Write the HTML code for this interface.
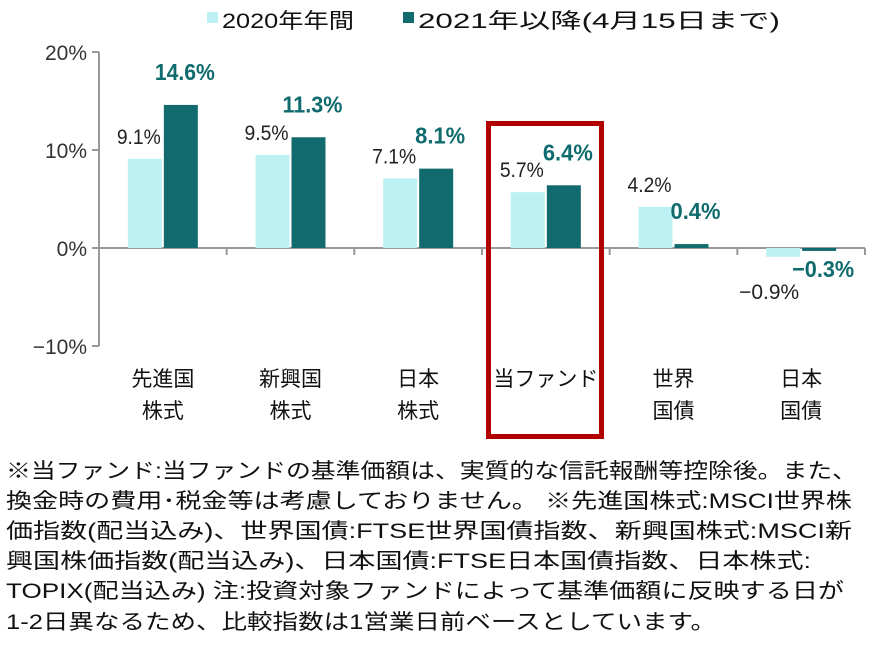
<!DOCTYPE html>
<html><head><meta charset="utf-8"><style>
body{margin:0;background:#fff;}
svg{display:block;font-family:"Liberation Sans","Noto Sans CJK JP",sans-serif;}
</style></head><body>
<svg id="chart" width="878" height="655" viewBox="0 0 878 655" xmlns="http://www.w3.org/2000/svg">
<g>
  <rect x="207" y="12" width="11" height="11" fill="#bdf1f3"/>
  <text x="222" y="28" font-size="21" fill="#111" textLength="132" lengthAdjust="spacingAndGlyphs">2020年年間</text>
  <rect x="403" y="12" width="11" height="11" fill="#116a6e"/>
  <text x="418" y="28" font-size="21" fill="#111" textLength="362" lengthAdjust="spacingAndGlyphs">2021年以降(4月15日まで)</text>
</g>
<g id="axes"></g>
<g id="bars"></g>
<rect x="488.5" y="123.5" width="113" height="313" fill="none" stroke="#b00000" stroke-width="5"/>
<g font-size="21" fill="#111">
  <text x="6" y="478" textLength="851" lengthAdjust="spacingAndGlyphs">※当ファンド:当ファンドの基準価額は、実質的な信託報酬等控除後。また、</text>
  <text x="6" y="508" textLength="846" lengthAdjust="spacingAndGlyphs">換金時の費用･税金等は考慮しておりません。 ※先進国株式:MSCI世界株</text>
  <text x="6" y="538" textLength="846" lengthAdjust="spacingAndGlyphs">価指数(配当込み)、世界国債:FTSE世界国債指数、新興国株式:MSCI新</text>
  <text x="6" y="568" textLength="805" lengthAdjust="spacingAndGlyphs">興国株価指数(配当込み)、日本国債:FTSE日本国債指数、日本株式:</text>
  <text x="6" y="598" textLength="838" lengthAdjust="spacingAndGlyphs">TOPIX(配当込み) 注:投資対象ファンドによって基準価額に反映する日が</text>
  <text x="6" y="629" textLength="710" lengthAdjust="spacingAndGlyphs">1-2日異なるため、比較指数は1営業日前ベースとしています。</text>
</g>
</svg>
<script>
const categories = [["先進国","株式"],["新興国","株式"],["日本","株式"],["当ファンド"],["世界","国債"],["日本","国債"]];
const series2020 = [9.1, 9.5, 7.1, 5.7, 4.2, -0.9];
const series2021 = [14.6, 11.3, 8.1, 6.4, 0.4, -0.3];
const yTicks = [20, 10, 0, -10];
const yTickLabels = ["20%","10%","0%","-10%"];

const NS="http://www.w3.org/2000/svg";
const x0=99, x1=865, y0=248, pxPer=9.8;
const bw=(x1-x0)/categories.length;
const yS=v=>y0-v*pxPer;
const axes=document.getElementById('axes'), bars=document.getElementById('bars');
function mk(tag,attrs,parent){const e=document.createElementNS(NS,tag);for(const k in attrs)e.setAttribute(k,attrs[k]);parent.appendChild(e);return e;}

const yl=mk('line',{x1:x0,x2:x0,y1:yS(20),y2:yS(-10),stroke:'#999','stroke-width':2},axes);


yTicks.forEach((t,i)=>{
  const tk=mk('line',{x1:x0-7,x2:x0,y1:yS(t),y2:yS(t),stroke:'#999','stroke-width':2},axes);
  
  
  const tl=mk('text',{x:x0-12,y:yS(t)+8,'text-anchor':'end','font-size':21,fill:'#333'},axes);
  tl.textContent=yTickLabels[i].replace('-','−');
  
  
});
const xl=mk('line',{x1:x0,x2:x1,y1:y0,y2:y0,stroke:'#999','stroke-width':2},axes);


for(let i=1;i<=categories.length;i++){
  const xt=x0+i*bw;
  const tk=mk('line',{x1:xt,x2:xt,y1:y0,y2:y0+7,stroke:'#999','stroke-width':2},axes);
  
  
}
function fmt(v){return (v<0?'−':'')+Math.abs(v).toFixed(1)+'%';}
categories.forEach((c,i)=>{
  const gx=x0+i*bw+(bw-70)/2;
  const a=series2020[i], b=series2021[i];
  const r1=mk('rect',{x:gx,y:Math.min(yS(a),y0),width:34,height:Math.abs(yS(a)-y0),fill:'#bdf1f3'},bars);
  
  
  const r2=mk('rect',{x:gx+36,y:Math.min(yS(b),y0),width:34,height:Math.max(Math.abs(yS(b)-y0),2),fill:'#116a6e'},bars);
  
  
  const l1=mk('text',{x:a>=0?gx+11:gx+3,y:a>=0?yS(a)-15:yS(a)+42,'text-anchor':'middle','font-size':21,fill:'#222',textLength:a<0?60:44,lengthAdjust:'spacingAndGlyphs'},bars);
  l1.textContent=fmt(a);
  
  
  const l2=mk('text',{x:gx+53+4,y:b>=0?yS(b)-25:yS(b)+26,'text-anchor':'middle','font-size':23,'font-weight':'bold',fill:'#0f6b6d',textLength:b<0?62:(b>=10?60:50),lengthAdjust:'spacingAndGlyphs'},bars);
  l2.textContent=fmt(b);
  
  
  c.forEach((line,j)=>{
    const t=mk('text',{x:x0+i*bw+bw/2,y:386+j*32,'text-anchor':'middle','font-size':21,fill:'#111'},axes);
    t.textContent=line;
    
    
  });
});
</script>
</body></html>
